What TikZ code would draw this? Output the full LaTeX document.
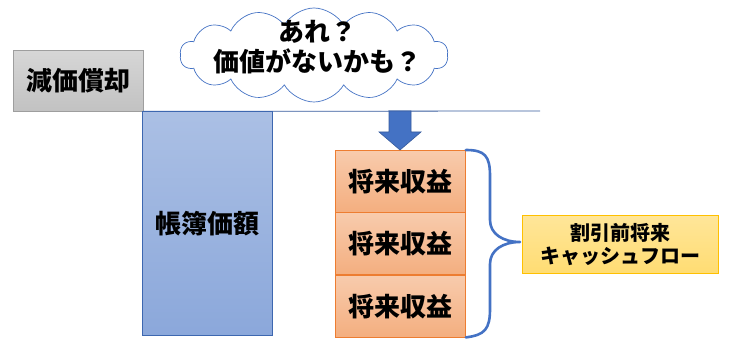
\documentclass[tikz,border=0pt]{standalone}
\usepackage{fontspec}
\newfontfamily\jp{Noto Sans CJK JP}
\usetikzlibrary{shapes.symbols,calc}
\definecolor{accblue}{HTML}{4472C4}
\definecolor{accorange}{HTML}{ED7D31}
\definecolor{accgold}{HTML}{FFC000}
\tikzset{
  txt/.style={font=\jp\bfseries\fontsize{26}{30}\selectfont, text=black},
  graybox/.style={draw=black!38, top color=black!16, bottom color=black!24, inner sep=0pt, txt},
  bluebox/.style={draw=accblue!90!black, line width=0.8pt, top color=accblue!45, bottom color=accblue!62, inner sep=0pt, txt},
  orangebox/.style={draw=accorange, line width=0.8pt, top color=accorange!40, bottom color=accorange!62, inner sep=0pt, txt, minimum width=130pt, minimum height=61.67pt},
  yellowbox/.style={draw=accgold, line width=0.8pt, top color=accgold!40, bottom color=accgold!55, inner sep=0pt, align=center,
     font=\jp\bfseries\fontsize{20}{23}\selectfont},
  thought/.style={cloud, cloud puffs=14, cloud puff arc=120, cloud ignores aspect, draw=accblue, line width=0.7pt, fill=white, inner sep=0pt},
  bracestyle/.style={draw=accblue, line width=2.6pt, line cap=round, line join=round},
}
\begin{document}
\begin{tikzpicture}[x=1pt,y=-1pt]
\useasboundingbox (0,0) rectangle (729,347);
% depreciation box
\node[graybox, minimum width=130pt, minimum height=61pt, anchor=north west] (dep) at (13,50) {減価償却};
% base line
\coordinate (lineend) at (540,111);
\draw[accblue!80!black, line width=0.8pt] (dep.south east) -- (lineend);
% book value
\node[bluebox, minimum width=130pt, minimum height=224pt, anchor=north west] (book) at (142,111) {帳簿価額};
% future earnings
\node[orangebox, anchor=north west] (e1) at (335,150) {将来収益};
\node[orangebox, anchor=north] (e2) at (e1.south) {将来収益};
\node[orangebox, anchor=north] (e3) at (e2.south) {将来収益};
% down arrow
\coordinate (atop) at (400,111);
\fill[accblue, draw=accblue!80!black, line width=0.6pt]
  ($(atop)+(-11,0)$) -- ($(atop)+(11,0)$) -- ($(atop)+(11,21)$) -- ($(atop)+(21,21)$)
  -- (e1.north -| atop) -- ($(atop)+(-21,21)$) -- ($(atop)+(-11,21)$) -- cycle;
% brace
\coordinate (bt) at (e1.north east);
\coordinate (bb) at (e3.south east);
\coordinate (tip) at (520,242);
\draw[bracestyle] (bt) .. controls (485,150) and (490,156) .. (490,176) -- (490,220)
  .. controls (490,234) and (503,242) .. (tip)
  .. controls (503,242) and (490,250) .. (490,264) -- (490,309)
  .. controls (490,329) and (485,335) .. (bb);
% yellow box
\node[yellowbox, minimum width=196pt, minimum height=58pt, anchor=north west] (dcf) at (522,215) {割引前将来\\キャッシュフロー};
% cloud
\node[thought, minimum width=268pt, minimum height=94pt] (cl) at (314,55) {};
\node[txt, align=center, inner sep=0pt] (cltext) at (317,47) {あれ？\\価値がないかも？};
\end{tikzpicture}
\end{document}
